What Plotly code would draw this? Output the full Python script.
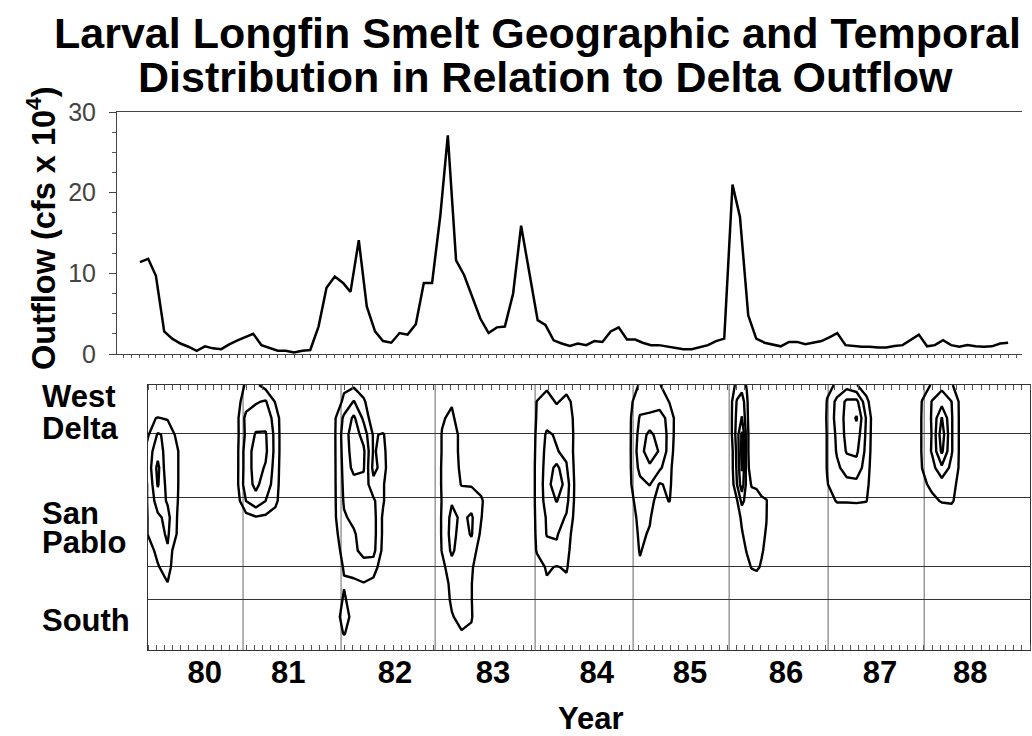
import plotly.graph_objects as go
import pandas as pd

# ---------------- data ----------------
# Monthly Delta outflow (cfs x 10^4), Jan 1980 - Dec 1988
outflow = [11.4, 11.8, 9.7, 2.8, 1.9, 1.3, 0.9, 0.4, 0.95, 0.7, 0.6, 1.2,
           1.7, 2.1, 2.5, 1.1, 0.8, 0.4, 0.4, 0.2, 0.4, 0.5, 3.4, 8.2,
           9.6, 8.8, 7.7, 14.1, 5.9, 2.8, 1.6, 1.4, 2.6, 2.4, 3.7, 8.8,
           8.8, 17.2, 27.1, 11.6, 9.8, 7.1, 4.4, 2.6, 3.3, 3.4, 7.5, 15.9,
           10.2, 4.2, 3.6, 1.7, 1.3, 1.0, 1.3, 1.1, 1.6, 1.5, 2.8, 3.3,
           1.8, 1.8, 1.4, 1.1, 1.1, 0.9, 0.8, 0.6, 0.6, 0.8, 1.1, 1.6,
           1.9, 21.0, 17.0, 4.8, 1.9, 1.4, 1.2, 0.95, 1.5, 1.5, 1.2, 1.4,
           1.6, 2.1, 2.6, 1.1, 1.0, 0.9, 0.9, 0.8, 0.8, 1.0, 1.1, 1.7,
           2.4, 0.95, 1.1, 1.7, 1.1, 0.9, 1.1, 0.95, 0.9, 0.95, 1.3, 1.4]
months = pd.date_range("1980-01-01", periods=len(outflow), freq="MS")

outflow_ticks = [0, 10, 20, 30]

year_labels = ["80", "81", "82", "83", "84", "85", "86", "87", "88"]
year_label_pos = [0.58, 1.43, 2.52, 3.52, 4.58, 5.53, 6.51, 7.47, 8.39]
year_bounds = [0.97, 1.97, 2.93, 3.95, 4.95, 5.93, 6.94, 7.92]

region_grid = [1.51, 2.51, 4.59, 6.55]
station_pos = [0.21, 1.21, 2.21, 3.23, 4.23, 5.26, 6.23, 7.19]

# Larval abundance index grids (rows listed top -> bottom), one per year
x80 = [-0.1, 0.0, 0.1, 0.2, 0.3, 0.4]
y80 = [7.5, 7.0, 6.5, 6.0, 5.5, 5.0, 4.5, 4.0, 3.5, 3.0, 2.5, 2.0, 1.5]
z80 = [[0, 0, 0, 0, 0, 0],
       [0, 0.8, 1.05, 0.9, 0.5, 0],
       [0, 0.9, 2.1, 1.8, 0.7, 0],
       [0, 1.5, 2.6, 1.5, 1.1, 0],
       [0, 1.4, 3.3, 1.2, 1.1, 0],
       [0, 1.1, 3.1, 1.6, 1.1, 0],
       [0, 1.1, 2.5, 1.9, 1.05, 0],
       [0, 1.05, 1.8, 2.3, 0.95, 0],
       [0, 1.05, 1.6, 2.15, 0.9, 0],
       [0, 0.5, 1.3, 1.9, 0, 0],
       [0, 0, 0.9, 1.5, 0, 0],
       [0, 0, 0, 0.95, 0, 0],
       [0, 0, 0, 0, 0, 0]]

x81 = [0.9, 1.0, 1.1, 1.2, 1.3, 1.4]
y81 = [8.0, 7.5, 7.0, 6.5, 6.0, 5.5, 5.0, 4.5, 4.0, 3.5]
z81 = [[0, 1.2, 1.2, 0.6, 0, 0],
       [0.6, 1.5, 1.9, 2.1, 0.9, 0],
       [0.6, 2.3, 2.5, 2.6, 1.6, 0],
       [0.6, 2.2, 3.1, 3.1, 1.7, 0],
       [0.6, 2.5, 3.4, 3.2, 1.7, 0],
       [0.6, 2.5, 3.4, 2.9, 1.6, 0],
       [0.6, 2.6, 3.2, 2.6, 1.5, 0],
       [0.4, 2.0, 2.7, 2.0, 1.3, 0],
       [0, 0.6, 0.9, 0.8, 0.5, 0],
       [0, 0, 0, 0, 0, 0]]

x82 = [1.8, 1.9, 2.0, 2.1, 2.2, 2.3, 2.4, 2.5]
y82 = [8.0, 7.5, 7.0, 6.5, 6.0, 5.5, 5.0, 4.5, 4.0, 3.5, 3.0, 2.5, 2.0, 1.5, 1.0, 0.5, 0.0]
z82 = [[0, 0, 0.7, 0.8, 0.3, 0, 0, 0],
       [0, 0, 1.3, 2.05, 1.2, 0, 0, 0],
       [0, 0.8, 2.2, 3.2, 1.8, 0.3, 0, 0],
       [0, 0.8, 2.5, 3.6, 2.6, 0.9, 1.1, 0],
       [0, 0.8, 2.4, 3.5, 3.2, 0.9, 1.3, 0],
       [0, 0.8, 2.3, 3.3, 3.1, 0.7, 1.4, 0],
       [0, 0.8, 2.2, 2.6, 2.7, 1.3, 1.1, 0],
       [0, 0.8, 2.1, 2.6, 2.5, 2.2, 1.1, 0],
       [0, 0.8, 1.9, 2.2, 2.5, 2.4, 0.8, 0],
       [0, 0.6, 1.7, 1.9, 2.4, 2.4, 0.8, 0],
       [0, 0.4, 1.4, 1.8, 2.3, 2.3, 0.7, 0],
       [0, 0.2, 1.1, 1.4, 1.6, 1.5, 0.3, 0],
       [0, 0, 0.9, 0.8, 0.95, 0.7, 0, 0],
       [0, 0, 1.2, 0.3, 0, 0, 0, 0],
       [0, 0.2, 1.6, 0.5, 0, 0, 0, 0],
       [0, 0, 1.1, 0.2, 0, 0, 0, 0],
       [0, 0, 0, 0, 0, 0, 0, 0]]

x83 = [2.9, 3.0, 3.1, 3.2, 3.3, 3.4, 3.5]
y83 = [8.0, 7.5, 7.0, 6.5, 6.0, 5.5, 5.0, 4.5, 4.0, 3.5, 3.0, 2.5, 2.0, 1.5, 1.0, 0.5, 0.0]
z83 = [[0, 0, 0, 0, 0, 0, 0],
       [0, 0.3, 0.9, 0, 0, 0, 0],
       [0, 0.9, 1.2, 0.4, 0, 0, 0],
       [0, 1.05, 1.5, 0.7, 0, 0, 0],
       [0, 1.05, 1.5, 0.7, 0, 0, 0],
       [0, 1.1, 1.5, 0.8, 0, 0, 0],
       [0, 1.1, 1.5, 0.95, 0.9, 0.5, 0],
       [0, 1.05, 1.9, 1.5, 1.6, 1.2, 0],
       [0, 1.1, 2.3, 1.8, 2.15, 1.05, 0],
       [0, 1.1, 2.4, 1.5, 2.1, 0.8, 0],
       [0, 1.05, 2.2, 1.4, 1.5, 0.5, 0],
       [0, 0.7, 1.6, 1.4, 1.2, 0, 0],
       [0, 0.4, 1.3, 1.4, 1.05, 0, 0],
       [0, 0.2, 1.2, 1.4, 1.05, 0, 0],
       [0, 0, 0.9, 1.4, 1.1, 0, 0],
       [0, 0, 0.3, 0.9, 0.8, 0, 0],
       [0, 0, 0, 0, 0, 0, 0]]

x84 = [3.87, 3.97, 4.07, 4.17, 4.27, 4.37, 4.47]
y84 = [8.0, 7.5, 7.0, 6.5, 6.0, 5.5, 5.0, 4.5, 4.0, 3.5, 3.0, 2.5, 2.0, 1.5]
z84 = [[0, 0, 0.8, 0, 0.6, 0, 0],
       [0, 1.05, 1.4, 0.9, 1.3, 0.6, 0],
       [0, 1.1, 1.6, 1.5, 1.7, 0.6, 0],
       [0, 1.2, 2.15, 1.9, 1.9, 0.6, 0],
       [0, 1.25, 2.3, 2.05, 1.8, 0.6, 0],
       [0, 1.3, 2.4, 3.3, 2.1, 0.6, 0],
       [0, 1.3, 2.5, 3.8, 2.5, 0.6, 0],
       [0, 1.3, 2.4, 3.05, 2.3, 0.6, 0],
       [0, 1.25, 2.1, 2.4, 1.9, 0.55, 0],
       [0, 1.2, 2.05, 2.1, 1.4, 0.5, 0],
       [0, 1.1, 1.7, 1.8, 1.3, 0.3, 0],
       [0, 0.6, 1.1, 0.95, 1.1, 0.2, 0],
       [0, 0.3, 0.9, 0.5, 0.8, 0, 0],
       [0, 0, 0, 0, 0, 0, 0]]

x85 = [4.82, 4.92, 5.02, 5.12, 5.22, 5.32, 5.42]
y85 = [8.0, 7.5, 7.0, 6.5, 6.0, 5.5, 5.0, 4.5, 4.0, 3.5, 3.0, 2.5, 2.0]
z85 = [[0, 0.5, 1.1, 1.2, 1.05, 0.5, 0],
       [0, 0.8, 1.6, 1.6, 1.8, 0.95, 0],
       [0, 0.9, 2.1, 2.2, 2.2, 1.85, 0],
       [0, 0.9, 2.4, 3.3, 2.5, 1.8, 0],
       [0, 0.9, 2.6, 3.6, 2.9, 1.6, 0],
       [0, 0.9, 2.3, 2.8, 2.2, 1.3, 0],
       [0, 0.9, 1.7, 2.05, 0.9, 1.2, 0],
       [0, 0.7, 1.5, 1.3, 0.6, 1.05, 0],
       [0, 0.5, 1.3, 1.1, 0.2, 0, 0],
       [0, 0.3, 1.2, 0.9, 0, 0, 0],
       [0, 0, 1.1, 0.5, 0, 0, 0],
       [0, 0, 0.8, 0, 0, 0, 0],
       [0, 0, 0, 0, 0, 0, 0]]

x86 = [5.91, 5.96, 6.01, 6.06, 6.11, 6.16, 6.21, 6.26, 6.31, 6.36]
y86 = [8.0, 7.5, 7.0, 6.5, 6.0, 5.5, 5.0, 4.5, 4.0, 3.5, 3.0, 2.5, 2.0]
z86 = [[0, 0.6, 1.3, 1.5, 0.9, 0, 0, 0, 0, 0],
       [0, 1.0, 2.1, 2.6, 1.2, 0, 0, 0, 0, 0],
       [0, 1.05, 2.3, 3.05, 1.3, 0, 0, 0, 0, 0],
       [0, 1.05, 2.5, 4.2, 1.5, 0, 0, 0, 0, 0],
       [0, 0.8, 2.3, 4.3, 1.5, 0, 0, 0, 0, 0],
       [0, 0.8, 2.2, 4.1, 1.5, 0.3, 0, 0, 0, 0],
       [0, 0.6, 2.0, 3.6, 1.6, 0.9, 0.8, 0, 0, 0],
       [0, 0.2, 0.9, 2.3, 1.6, 1.5, 1.5, 1.4, 1.1, 0],
       [0, 0, 0.5, 1.2, 1.5, 1.6, 1.5, 1.4, 1.05, 0],
       [0, 0, 0, 0.9, 1.4, 1.5, 1.5, 1.3, 0.9, 0],
       [0, 0, 0, 0.4, 1.1, 1.4, 1.5, 1.2, 0.6, 0],
       [0, 0, 0, 0, 0.5, 1.1, 1.3, 0.8, 0.1, 0],
       [0, 0, 0, 0, 0, 0, 0, 0, 0, 0]]

x87 = [6.83, 6.93, 7.03, 7.13, 7.23, 7.33, 7.43]
y87 = [8.0, 7.5, 7.0, 6.5, 6.0, 5.5, 5.0, 4.5, 4.0]
z87 = [[0, 0.8, 1.1, 1.6, 1.05, 0.4, 0],
       [0, 1.05, 2.3, 3.2, 3.3, 1.3, 0],
       [0, 1.1, 2.4, 3.3, 4.1, 1.9, 0],
       [0, 1.05, 2.2, 3.3, 3.6, 1.8, 0],
       [0, 1.05, 2.1, 3.1, 3.2, 1.7, 0],
       [0, 1.05, 1.8, 2.4, 2.6, 1.5, 0],
       [0, 0.95, 1.5, 1.7, 1.7, 1.3, 0],
       [0, 0.4, 1.1, 1.1, 1.15, 1.05, 0],
       [0, 0, 0, 0, 0, 0, 0]]

x88 = [7.8, 7.9, 8.0, 8.1, 8.2, 8.3, 8.4]
y88 = [8.0, 7.5, 7.0, 6.5, 6.0, 5.5, 5.0, 4.5, 4.0]
z88 = [[0, 0.5, 1.1, 1.7, 1.1, 0.3, 0],
       [0, 1.05, 2.05, 2.6, 2.0, 0.6, 0],
       [0, 1.1, 2.1, 4.05, 2.1, 0.6, 0],
       [0, 1.1, 2.05, 4.6, 2.1, 0.6, 0],
       [0, 1.1, 2.1, 4.2, 2.1, 0.6, 0],
       [0, 1.02, 1.6, 2.8, 1.7, 0.7, 0],
       [0, 0.7, 1.3, 1.5, 1.4, 0.5, 0],
       [0, 0.2, 0.7, 1.1, 1.2, 0.2, 0],
       [0, 0, 0, 0, 0, 0, 0]]

# ---------------- figure ----------------
W, H = 1032, 736
FONT = "Liberation Sans, Arial, Helvetica, sans-serif"


def px_x(p):
    return p / W


def px_y(p):
    return (H - p) / H


fig = go.Figure()

fig.add_trace(go.Scatter(
    x=months, y=outflow, mode="lines",
    line=dict(color="black", width=2.5),
    xaxis="x", yaxis="y", hoverinfo="skip", showlegend=False))

for xs, ys, zs in [(x80, y80, z80), (x81, y81, z81), (x82, y82, z82),
                   (x83, y83, z83), (x84, y84, z84), (x85, y85, z85),
                   (x86, y86, z86), (x87, y87, z87), (x88, y88, z88)]:
    fig.add_trace(go.Contour(
        x=xs, y=ys[::-1], z=zs[::-1],
        xaxis="x2", yaxis="y2",
        autocontour=False,
        contours=dict(start=1, end=4, size=1, coloring="lines"),
        colorscale=[[0, "black"], [1, "black"]],
        line=dict(width=2.4, smoothing=0),
        showscale=False, hoverinfo="skip", showlegend=False))

for b in year_bounds:
    fig.add_shape(type="line", xref="x2", yref="y2 domain",
                  x0=b, x1=b, y0=0, y1=1,
                  line=dict(color="#666", width=1), layer="below")

annotations = [
    dict(text="<b>Larval Longfin Smelt Geographic and Temporal</b>",
         x=px_x(537), y=px_y(33), font=dict(size=43)),
    dict(text="<b>Distribution in Relation to Delta Outflow</b>",
         x=px_x(545), y=px_y(77), font=dict(size=43)),
    dict(text="<b>Outflow (cfs x 10<sup>4</sup>)</b>", textangle=-90,
         x=px_x(41), y=px_y(228), font=dict(size=32.5)),
    dict(text="<b>Year</b>", x=px_x(591), y=px_y(718), font=dict(size=31)),
]
for word, yc in [("West", 396), ("Delta", 428), ("San", 513), ("Pablo", 542), ("South", 620)]:
    annotations.append(dict(text="<b>%s</b>" % word, x=px_x(40), y=px_y(yc),
                            xanchor="left", font=dict(size=31)))
for a in annotations:
    a.update(xref="paper", yref="paper", showarrow=False)
    a.setdefault("xanchor", "center")
    a.setdefault("yanchor", "middle")
    a["font"].update(family=FONT, color="black")

fig.update_layout(
    width=W, height=H, autosize=False,
    margin=dict(l=0, r=0, t=0, b=0, pad=0, autoexpand=False),
    paper_bgcolor="white", plot_bgcolor="white",
    font=dict(family=FONT, color="black"),
    showlegend=False,
    annotations=annotations,
    xaxis=dict(domain=[px_x(117), px_x(1022)], anchor="y", type="date",
               range=["1979-10-07", "1989-01-22"], automargin=False,
               showline=True, linecolor="#444", linewidth=1, mirror=True,
               ticks="outside", ticklen=3, tickcolor="#555",
               dtick="M1", tick0="1980-01-01",
               showticklabels=False, showgrid=False, zeroline=False),
    yaxis=dict(domain=[px_y(354), px_y(112)], anchor="x", range=[0, 30],
               automargin=False,
               tickvals=outflow_ticks, ticks="outside", ticklen=7,
               tickcolor="#444", showline=True, linecolor="#444", linewidth=1,
               minor=dict(dtick=2.5, tick0=0, ticks="outside", ticklen=4,
                          tickcolor="#555", showgrid=False),
               tickfont=dict(size=25, color="#444", family=FONT),
               ticklabelstandoff=8, showgrid=False, zeroline=False),
    xaxis2=dict(domain=[px_x(148), px_x(1030)], anchor="y2", range=[0, 9],
                automargin=False,
                tickvals=year_label_pos, ticktext=year_labels,
                ticks="", showline=True, mirror="allticks",
                linecolor="#333", linewidth=1,
                minor=dict(dtick=1 / 12, tick0=0, ticks="inside", ticklen=5,
                           tickcolor="#555", showgrid=False),
                tickfont=dict(size=31, family=FONT, color="black", weight="bold"),
                ticklabelstandoff=-5, showgrid=False, zeroline=False),
    yaxis2=dict(domain=[px_y(650), px_y(385)], anchor="x2", range=[0, 8],
                automargin=False,
                tickvals=region_grid, showgrid=True, gridcolor="#333",
                gridwidth=1, showticklabels=False, ticks="",
                showline=True, mirror=True, linecolor="#333", linewidth=1,
                zeroline=False),
    yaxis3=dict(overlaying="y2", side="right", anchor="x2", range=[0, 8],
                automargin=False,
                tickvals=station_pos, ticks="inside", ticklen=8,
                tickcolor="#333", showticklabels=False, showgrid=False,
                showline=False, zeroline=False),
)

fig.write_html("out.html")
